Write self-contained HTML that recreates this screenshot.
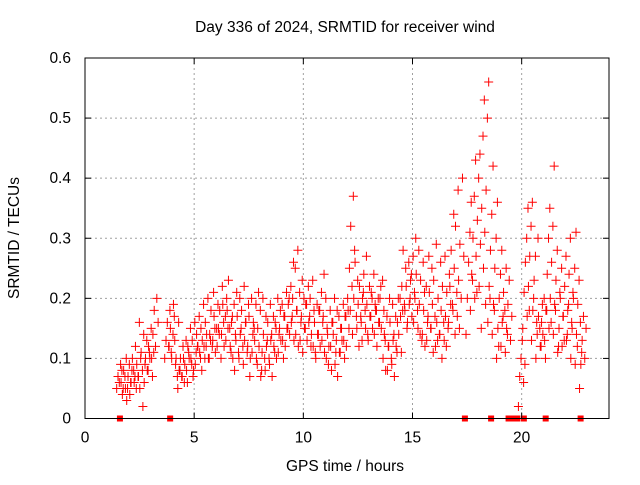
<!DOCTYPE html>
<html><head><meta charset="utf-8"><style>
body{margin:0;background:#fff}
svg text{font-family:"Liberation Sans",sans-serif;font-size:15.5px;fill:#000}
</style></head><body>
<svg id="chart" width="640" height="480" xmlns="http://www.w3.org/2000/svg">
<rect width="640" height="480" fill="#fff"/>
<g id="grid"></g><g id="marks"></g><g id="axes"></g>
<text x="345" y="32" text-anchor="middle">Day 336 of 2024, SRMTID for receiver wind</text>
<text x="345" y="471" text-anchor="middle">GPS time / hours</text>
<text transform="translate(19,238) rotate(-90)" text-anchor="middle">SRMTID / TECUs</text>
</svg>
<script>
const times=[1.6,1.8,2.0,2.2,2.4,2.6,2.8,3.0,3.2,3.8,4.0,4.2,4.4,4.6,4.8,5.0,5.2,5.4,5.6,5.8,6.0,6.2,6.4,6.6,6.8,7.0,7.2,7.4,7.6,7.8,8.0,8.2,8.4,8.6,8.8,9.0,9.2,9.4,9.6,9.8,10.0,10.2,10.4,10.6,10.8,11.0,11.2,11.4,11.6,11.8,12.0,12.2,12.4,12.6,12.8,13.0,13.2,13.4,13.6,13.8,14.0,14.2,14.4,14.6,14.8,15.0,15.2,15.4,15.6,15.8,16.0,16.2,16.4,16.6,16.8,17.0,17.2,17.6,17.8,18.0,18.2,18.4,18.6,18.8,19.0,19.2,19.4,20.0,20.2,20.4,20.6,20.8,21.0,21.2,21.4,21.6,21.8,22.0,22.2,22.4,22.6,22.8];
const values=[
[.05,.07,.06,.09,.08,.05],[.06,.04,.08,.07,.1,.05],[.05,.03,.07,.09,.06,.08],[.04,.06,.1,.08,.07,.05],
[.06,.12,.09,.07,.16,.1],[.07,.05,.11,.08,.14,.09],[.02,.06,.1,.13,.08,.11],[.08,.12,.1,.15,.07,.11],
[.1,.14,.18,.12,.2,.16],[.1,.13,.16,.12,.18,.11],[.12,.15,.1,.14,.17,.09],[.19,.13,.1,.07,.16,.08],
[.05,.08,.1,.07,.12,.06],[.07,.1,.09,.13,.06,.11],[.08,.12,.1,.15,.09,.07],[.1,.13,.08,.16,.11,.12],
[.09,.14,.12,.17,.1,.08],[.11,.15,.13,.19,.1,.12],[.12,.16,.14,.2,.1,.13],[.1,.14,.18,.12,.21,.15],
[.13,.17,.11,.15,.19,.14],[.12,.15,.18,.1,.22,.16],[.14,.19,.12,.17,.2,.15],[.13,.18,.23,.15,.11,.17],
[.12,.16,.1,.19,.14,.21],[.08,.13,.17,.11,.2,.15],[.1,.14,.18,.12,.22,.16],[.09,.13,.16,.11,.19,.07],
[.12,.17,.1,.2,.14,.15],[.11,.16,.13,.19,.09,.21],[.1,.15,.12,.18,.08,.2],[.07,.11,.14,.1,.17,.13],
[.08,.12,.16,.1,.19,.14],[.09,.13,.07,.17,.11,.15],[.12,.16,.1,.2,.14,.18],[.11,.15,.13,.19,.1,.17],
[.13,.17,.12,.21,.15,.2],[.15,.19,.14,.22,.17,.26],[.16,.2,.13,.25,.18,.28],[.14,.18,.12,.21,.16,.23],
[.13,.17,.11,.2,.15,.19],[.15,.19,.13,.22,.17,.12],[.16,.2,.14,.23,.18,.11],[.12,.16,.1,.19,.14,.18],
[.14,.18,.12,.21,.16,.24],[.13,.17,.11,.2,.15,.09],[.1,.14,.12,.18,.08,.16],[.12,.16,.14,.2,.11,.18],
[.09,.13,.07,.17,.11,.15],[.11,.15,.13,.19,.1,.17],[.13,.17,.12,.2,.15,.18],[.18,.25,.32,.22,.37,.28],
[.14,.2,.26,.17,.23,.12],[.15,.19,.22,.17,.13,.21],[.16,.2,.24,.18,.27,.14],[.15,.19,.13,.22,.17,.2],
[.17,.21,.15,.24,.19,.18],[.14,.18,.12,.2,.16,.22],[.16,.2,.15,.23,.18,.13],[.1,.14,.08,.17,.12,.2],
[.08,.12,.16,.1,.19,.14],[.09,.13,.07,.17,.11,.2],[.12,.16,.14,.2,.11,.18],[.17,.22,.28,.19,.25,.15],
[.18,.22,.16,.26,.2,.24],[.19,.23,.17,.27,.21,.3],[.16,.2,.24,.18,.28,.14],[.15,.19,.23,.13,.26,.21],
[.14,.18,.12,.22,.16,.27],[.13,.17,.21,.15,.25,.11],[.15,.19,.23,.17,.29,.13],[.12,.16,.2,.14,.26,.1],
[.14,.18,.22,.16,.27,.12],[.13,.17,.21,.15,.24,.19],[.16,.22,.28,.19,.34,.14],[.18,.25,.32,.21,.38,.15],
[.17,.23,.29,.2,.4,.27],[.14,.2,.26,.31,.36,.23],[.18,.24,.3,.37,.43,.21],[.2,.27,.33,.4,.44,.15],
[.22,.29,.35,.47,.53,.19],[.25,.31,.38,.5,.56,.2],[.16,.22,.28,.34,.42,.18],[.14,.19,.25,.3,.36,.12],
[.1,.15,.2,.24,.28,.17],[.12,.16,.21,.18,.25,.14],[.11,.15,.19,.23,.13,.17],[.02,.07,.1,.13,.06,.09],
[.15,.21,.26,.3,.35,.18],[.17,.22,.27,.32,.36,.2],[.13,.18,.23,.27,.16,.3],[.1,.14,.17,.15,.12,.19],
[.12,.16,.14,.2,.1,.18],[.13,.18,.24,.3,.35,.16],[.15,.2,.26,.32,.42,.18],[.14,.19,.23,.28,.12,.21],
[.11,.15,.2,.25,.17,.13],[.12,.17,.22,.27,.14,.19],[.13,.18,.24,.3,.16,.21],[.1,.15,.2,.25,.31,.12],
[.09,.14,.19,.23,.16,.11],[.05,.09,.13,.17,.1,.15]];
const gapTimes=[1.6,3.9,17.4,18.6,19.4,19.6,19.8,20.1,21.1,22.7];
const xTicks=[0,5,10,15,20];
const yTicks=[0,0.1,0.2,0.3,0.4,0.5,0.6];
const yTickLabels=["0","0.1","0.2","0.3","0.4","0.5","0.6"];
const L=85,R=609,T=58,B=418.5,XMAX=24,YMAX=0.6;
const sx=v=>L+v/XMAX*(R-L), sy=v=>B-v/YMAX*(B-T);
const NS="http://www.w3.org/2000/svg";
function mk(tag,attrs,parent){const e=document.createElementNS(NS,tag);for(const k in attrs)e.setAttribute(k,attrs[k]);parent.appendChild(e);return e;}
const grid=document.getElementById('grid'),marks=document.getElementById('marks'),axes=document.getElementById('axes');
xTicks.forEach(t=>{const x=sx(t);
 if(t>0){const g=mk('line',{x1:x,x2:x,y1:T,y2:B,stroke:'#a0a0a0','stroke-dasharray':'2,3'},grid);
 
 }
 mk('line',{x1:x,x2:x,y1:B,y2:B-6,stroke:'#000'},axes);
 mk('line',{x1:x,x2:x,y1:T,y2:T+6,stroke:'#000'},axes);
 const tx=mk('text',{x:x,y:B+24,'text-anchor':'middle'},axes);tx.textContent=t;
 
 });
yTicks.forEach((t,i)=>{const y=sy(t);
 if(t>0&&t<YMAX){const g=mk('line',{x1:L,x2:R,y1:y,y2:y,stroke:'#a0a0a0','stroke-dasharray':'2,3'},grid);
 
 }
 mk('line',{x1:L,x2:L+6,y1:y,y2:y,stroke:'#000'},axes);
 mk('line',{x1:R,x2:R-6,y1:y,y2:y,stroke:'#000'},axes);
 const tx=mk('text',{x:L-14,y:y+5,'text-anchor':'end'},axes);tx.textContent=yTickLabels[i];
 
 });
const fr=mk('rect',{x:L,y:T,width:R-L,height:B-T,fill:'none',stroke:'#000'},axes);


let d='';
times.forEach((t,i)=>{values[i].forEach((v,j)=>{const x=sx(t)+(j-2.5)*1.3,y=sy(v);d+=`M${x-4.5},${y}h9M${x},${y-4.5}v9`;});});
const p=mk('path',{d:d,stroke:'#ff0000','stroke-width':1,fill:'none'},marks);


gapTimes.forEach(t=>{const r=mk('rect',{x:sx(t)-3,y:B-3,width:6,height:6,fill:'#ff0000'},marks);
 
 });
</script>
</body></html>
